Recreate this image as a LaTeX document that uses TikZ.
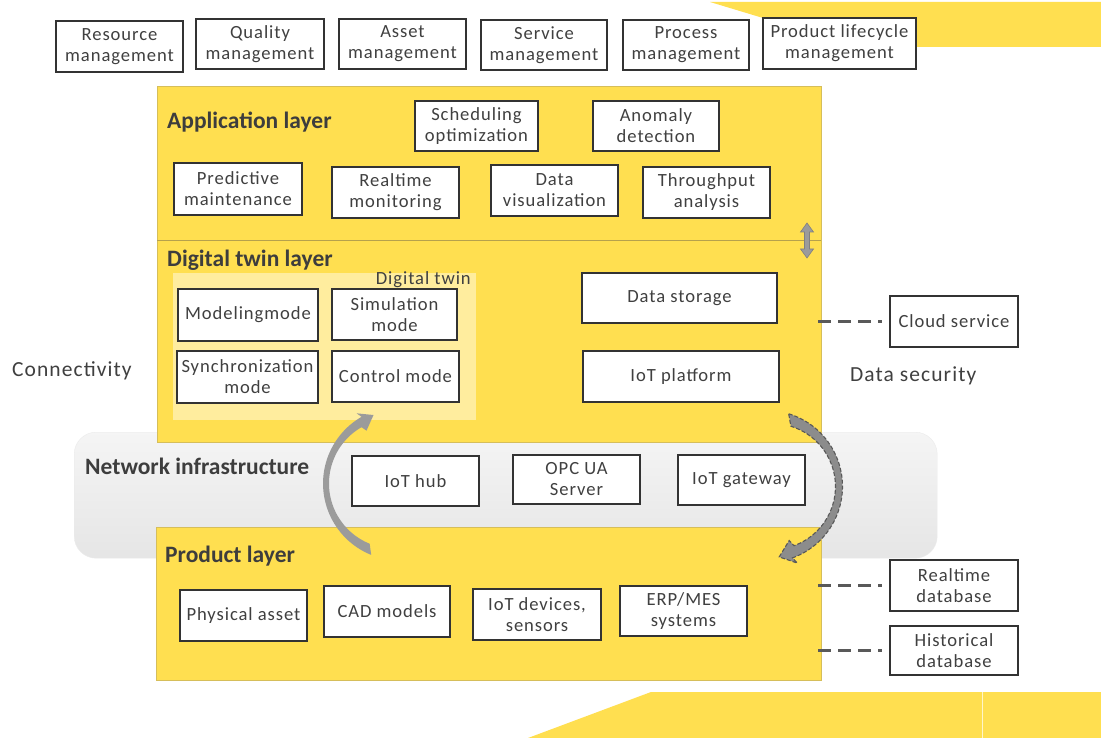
\documentclass[tikz,border=0pt]{standalone}
\usepackage{fontspec}
\setmainfont{Carlito}
\newfontfamily\bxf{Carlito}[LetterSpace=5]
\usetikzlibrary{shadows}
\definecolor{ylw}{HTML}{FFDF50}
\definecolor{ylwedge}{HTML}{D6BE5A}
\definecolor{txt}{HTML}{404040}
\definecolor{agray}{HTML}{9B9B9B}
\definecolor{dgray}{HTML}{595959}
\tikzset{
  box/.style={draw=black!80, line width=1.1pt, fill=white, minimum width=127pt,
    minimum height=51pt, inner sep=1pt, align=center,
    font=\bxf\fontsize{18.6}{21}\selectfont, text=txt,
    drop shadow={shadow xshift=1.2pt, shadow yshift=-1.2pt, opacity=0.35, fill=black}},
  title/.style={anchor=west, inner sep=0pt, text=txt!95!black, font=\bfseries\fontsize{23.5}{27}\selectfont},
  plain/.style={anchor=west, inner sep=0pt, text=txt, font=\bxf\fontsize{21.5}{25}\selectfont},
  panel/.style={fill=ylw, draw=ylwedge, line width=0.8pt, anchor=north west, inner sep=0pt},
  dashline/.style={draw=dgray, line width=2.4pt, dash pattern=on 13pt off 7pt, shorten >=7pt},
}
\begin{document}
\begin{tikzpicture}[x=1pt,y=-1pt]
\useasboundingbox (0,0) rectangle (1101,738);
\fill[white] (0,0) rectangle (1101,738);
% decorative banners
\fill[ylw] (710,2) -- (1101,2) -- (1101,47) -- (859,47) -- cycle;
\fill[ylw] (528,738) -- (651,692) -- (1101,692) -- (1101,738) -- cycle;
\draw[white!70!ylw, line width=0.8pt] (982,692) -- (982,738);
% top boxes
\node[box] (res) at (119.5,46.5) {Resource\\management};
\node[box, minimum width=128pt, minimum height=50pt] (qual) at (260,44) {Quality\\management};
\node[box, minimum height=50pt] (asset) at (402.5,44) {Asset\\management};
\node[box, minimum width=126pt, minimum height=50pt] (serv) at (544,45) {Service\\management};
\node[box, minimum width=126pt, minimum height=50pt] (proc) at (686,45) {Process\\management};
\node[box, minimum width=153pt] (plm) at (839.5,43.5) {Product lifecycle\\management};
% network infrastructure
\node[anchor=north west, minimum width=863pt, minimum height=126pt, rounded corners=22pt,
  top color=black!4, bottom color=black!10, draw=black!8, inner sep=0pt] (net) at (74,432) {};
% panels
\node[panel, minimum width=664pt, minimum height=356pt] (upper) at (157,86) {};
\draw[draw=ylwedge!85!black, line width=1pt] (157,241) -- (821,241);
\node[panel, minimum width=665pt, minimum height=153pt] (prod) at (156,527) {};
% digital twin inner area
\fill[white, opacity=0.45] (173,273) rectangle (476,420);
\node[anchor=east, inner sep=0pt, text=txt, font=\bxf\fontsize{18.6}{21}\selectfont] (dtlabel) at (471,280) {Digital twin};
% titles
\node[title] (tapp) at (167,122) {Application layer};
\node[title] (tdt) at (167,260) {Digital twin layer};
\node[title] (tnet) at (85,466) {Network infrastructure};
\node[title] (tprod) at (165,556) {Product layer};
\node[plain] (conn) at (12,371) {Connectivity};
\node[plain] (dsec) at (850,376) {Data security};
% application layer boxes
\node[box, minimum width=123pt, minimum height=50pt] (sched) at (476.5,126) {Scheduling\\optimization};
\node[box, minimum width=126pt, minimum height=50pt] (anom) at (656,126) {Anomaly\\detection};
\node[box, minimum width=128pt, minimum height=52pt] (pred) at (238,189) {Predictive\\maintenance};
\node[box] (rtmon) at (395.5,192.5) {Realtime\\monitoring};
\node[box] (dviz) at (554.5,190.5) {Data\\visualization};
\node[box] (thru) at (706.5,192.5) {Throughput\\analysis};
% digital twin layer boxes
\node[box, minimum width=140pt, minimum height=52pt] (model) at (248,315) {Modelingmode};
\node[box, minimum width=125pt] (sim) at (394.5,314.5) {Simulation\\mode};
\node[box, minimum width=141pt, minimum height=52pt] (sync) at (247.5,377) {Synchronization\\mode};
\node[box] (ctrl) at (395.5,376.5) {Control mode};
\node[box, minimum width=195pt, minimum height=50pt] (dstore) at (679.5,298) {Data storage};
\node[box, minimum width=196pt] (iotp) at (681,376.5) {IoT platform};
% network boxes
\node[box, minimum height=50pt] (hub) at (415.5,481) {IoT hub};
\node[box, minimum height=49pt] (opc) at (576.5,479.5) {OPC UA\\Server};
\node[box, minimum height=50pt] (gw) at (741.5,480) {IoT gateway};
% product layer boxes
\node[box] (phys) at (243.5,615.5) {Physical asset};
\node[box, minimum width=126pt] (cad) at (387,611.5) {CAD models};
\node[box, minimum width=128pt] (iotd) at (537,614.5) {IoT devices,\\sensors};
\node[box, minimum height=50pt] (erp) at (683.5,611) {ERP/MES\\systems};
% right boxes
\node[box, minimum width=128pt] (cloud) at (954,321.5) {Cloud service};
\node[box, minimum width=128pt] (rtdb) at (954,585.5) {Realtime\\database};
\node[box, minimum width=128pt, minimum height=49pt] (hist) at (954,650.5) {Historical\\database};
% dashed connectors
\coordinate (c1) at (818,321.5);
\coordinate (c2) at (818,585.5);
\coordinate (c3) at (818,650.5);
\draw[dashline] (c1) -- (cloud.west);
\draw[dashline] (c2) -- (rtdb.west);
\draw[dashline] (c3) -- (hist.west);
% double arrow
\filldraw[fill=agray, draw=black!50, line width=0.6pt]
  (807,223) -- (813.5,232) -- (809.5,232) -- (809.5,249) -- (813.5,249) -- (807,258)
  -- (800.5,249) -- (804.5,249) -- (804.5,232) -- (800.5,232) -- cycle;
% left curved arrow
\fill[agray] (371.2,554.9) arc[start angle=112, end angle=240, radius=77]
  -- (356.5,413.3) -- (373.5,415) -- (366.5,430.7) -- (361.5,427.2)
  arc[start angle=240, end angle=112, radius=65] -- cycle;
% right curved arrow
\filldraw[fill=black!45, draw=black!65, line width=1.1pt, dash pattern=on 4pt off 2pt]
  (788.7,413.8) arc[start angle=-73, end angle=70, radius=76]
  -- (797.4,563.1) -- (779.2,556.9) -- (789.2,540.5) -- (794.0,545.7)
  arc[start angle=70, end angle=-73, radius=63] -- cycle;
\end{tikzpicture}
\end{document}
